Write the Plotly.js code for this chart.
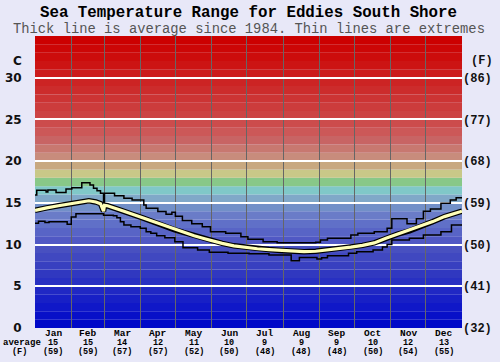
<!DOCTYPE html>
<html>
<head>
<meta charset="utf-8">
<script src="https://cdn.plot.ly/plotly-3.0.1.min.js"></script>
<style>html,body{margin:0;padding:0;background:#E8E8F8;}#chart{width:500px;height:362px;}</style>
</head>
<body>
<div id="chart"></div>
<script>
// ---- data ----
const months = ['Jan','Feb','Mar','Apr','May','Jun','Jul','Aug','Sep','Oct','Nov','Dec'];
const monthEdges = [0,31,59,90,120,151,181,212,243,273,304,334,365];
const avgC = [15,15,14,12,11,10,9,9,9,10,12,13];
const avgF = [59,59,57,57,52,50,48,48,48,50,54,55];

const maxDays = [0,1.5,9.5,11,18,26.5,31.5,40,47,50,53,56,58.6,59.4,68,76,83,93,95,105,112,117,120,126,134,143,150,163,176,182,195,207,240,244,250,270,276,290,301,305,318,326,332,338,347,355,360,365];
const maxVals = [15.95,16.5,16.3,16.55,16.25,16.65,16.8,17.4,17.15,16.75,16.45,16.15,14.7,16.15,15.85,15.55,15.35,14.75,14.35,13.95,13.62,13.86,13.4,12.9,12.5,12.15,11.55,11.35,10.95,10.63,10.35,10.23,10.27,10.55,10.75,11.15,11.35,11.55,11.95,13.1,12.5,13.1,14.0,14.26,14.94,15.34,15.62,15.62];

const minDays = [0,3,8.5,12,27.5,31,35,58.6,59.4,67,70,73,76,82,90,95,99,104,111,119.5,126.5,139,149,165,183,200,219,226,241,245,250,268,275,289,297,301,305,320,332,347,356,365];
const minVals = [12.55,12.8,12.65,12.75,12.45,13.3,13.7,13.5,13.5,13.45,13.2,12.75,12.35,12.15,11.95,11.55,11.35,11.07,10.83,10.35,9.63,9.35,9.07,8.95,8.9,8.75,8.05,8.45,8.27,8.43,8.67,8.95,9.15,9.35,9.7,10.0,10.55,10.75,11.15,11.55,12.35,12.35];

const avgDays = [0,5,10,20,30,40,46,52,56,58.6,59.4,62,68,76,84,92,100,110,119,127,136,145,152,160,170,180,190,200,210,220,230,240,250,260,270,280,290,300,310,320,330,340,350,360,365];
const avgVals = [14.1,14.3,14.4,14.65,14.9,15.15,15.25,15.1,14.9,14.0,14.7,14.65,14.4,14.0,13.6,13.2,12.75,12.3,11.8,11.45,11.05,10.7,10.4,10.15,9.85,9.65,9.5,9.4,9.3,9.2,9.15,9.2,9.35,9.5,9.7,9.9,10.2,10.75,11.25,11.65,12.15,12.75,13.35,13.8,14.0];

const yTicks = [0,5,10,15,20,25,30];
const yTickC = ['0','5','10','15','20','25','30'];
const yTickF = ['(32)','(41)','(50)','(59)','(68)','(77)','(86)'];

// band colours, 1 degree each from 0 up to 35
const bandColors = [
 '#0008C8','#0810C8','#1018C8','#1820C6','#2028C4','#2830C2','#3038C0','#3840C0','#4048C0','#4850C0',
 '#5058C4','#5864C6','#6070C8','#6A7CC8','#7290C8','#80A8C8','#80C8C8','#88C888','#C8C888','#C8A880',
 '#C88C7C','#C87870','#C86464','#CC5858','#CC4C4C','#CC4444','#CC3C3C','#CC3434','#CC2C2C','#CC2424',
 '#CC1C1C','#CC1414','#CC0C0C','#CC0606','#CC0000'
];

// ---- chart ----
const shapes = bandColors.map((c,i)=>({type:'rect',xref:'paper',x0:0,x1:1,yref:'y',y0:i,y1:i+1,
  fillcolor:c,line:{width:0},layer:'below'}));

const mono = 'Liberation Mono, Courier New, monospace';
const sans = 'DejaVu Sans, Verdana, sans-serif';

const centers = months.map((m,i)=>(monthEdges[i]+monthEdges[i+1])/2);
const annotations = [];
const rowY = [-0.0188,-0.0514,-0.0822];
const lab = (sz)=>({family:mono,size:sz,weight:'bold',color:'#000'});
months.forEach((m,i)=>{
  annotations.push({xref:'x',yref:'paper',x:centers[i],y:rowY[0],text:m,showarrow:false,yanchor:'middle',borderpad:0,font:lab(9.5)});
  annotations.push({xref:'x',yref:'paper',x:centers[i],y:rowY[1],text:String(avgC[i]),showarrow:false,yanchor:'middle',borderpad:0,font:lab(8.5)});
  annotations.push({xref:'x',yref:'paper',x:centers[i],y:rowY[2],text:'('+avgF[i]+')',showarrow:false,yanchor:'middle',borderpad:0,font:lab(8.5)});
});
annotations.push({xref:'paper',yref:'paper',x:-0.031,y:rowY[1],text:'average',showarrow:false,xanchor:'center',yanchor:'middle',borderpad:0,font:lab(9)});
annotations.push({xref:'paper',yref:'paper',x:-0.037,y:rowY[2],text:'(F)',showarrow:false,xanchor:'center',yanchor:'middle',borderpad:0,font:lab(8.5)});
annotations.push({xref:'paper',yref:'paper',x:-0.040,y:0.914,text:'C',showarrow:false,xanchor:'center',yanchor:'middle',
  font:{family:sans,size:12,weight:'bold',color:'#111'}});
annotations.push({xref:'paper',yref:'paper',x:1.046,y:0.914,text:'(F)',showarrow:false,xanchor:'center',yanchor:'middle',
  font:{family:mono,size:12,weight:'bold',color:'#111'}});
annotations.push({xref:'paper',yref:'paper',x:0.5,y:1.022,text:'Thick line is average since 1984. Thin lines are extremes',
  showarrow:false,xanchor:'center',yanchor:'middle',borderpad:0,font:{family:mono,size:13.8,color:'#555'}});

const traces = [
  {x:maxDays,y:maxVals,mode:'lines',line:{color:'#000',width:1.5,shape:'hv'},hoverinfo:'skip',showlegend:false},
  {x:minDays,y:minVals,mode:'lines',line:{color:'#000',width:1.5,shape:'hv'},hoverinfo:'skip',showlegend:false},
  {x:avgDays,y:avgVals,mode:'lines',line:{color:'#000',width:5.5},hoverinfo:'skip',showlegend:false},
  {x:avgDays,y:avgVals,mode:'lines',line:{color:'#FFFFB8',width:3.2},hoverinfo:'skip',showlegend:false},
  {x:[0],y:[0],yaxis:'y2',mode:'none',hoverinfo:'skip',showlegend:false}
];

const layout = {
  width:500,height:362,
  margin:{l:35,r:38,t:36,b:34,pad:0},
  paper_bgcolor:'#E8E8F8',plot_bgcolor:'#E8E8F8',
  title:{text:'Sea Temperature Range for Eddies South Shore',x:0.5,xref:'paper',y:0.968,yref:'container',yanchor:'middle',
    font:{family:mono,size:15.8,weight:'bold',color:'#000'}},
  xaxis:{range:[0,365],tickmode:'array',tickvals:monthEdges,showticklabels:false,ticks:'',
    showgrid:true,gridcolor:'#666666',gridwidth:1,zeroline:false,showline:false,fixedrange:true},
  yaxis:{range:[0,35],tickmode:'array',tickvals:yTicks,ticktext:yTickC,ticks:'outside',ticklen:10,tickcolor:'rgba(0,0,0,0)',
    showgrid:true,gridcolor:'#FFFFFF',gridwidth:2,zeroline:false,showline:false,
    tickfont:{family:sans,size:12,weight:'bold',color:'#111'},fixedrange:true},
  yaxis2:{range:[0,35],overlaying:'y',side:'right',tickmode:'array',tickvals:yTicks,ticktext:yTickF,ticks:'',
    showgrid:false,zeroline:false,showline:false,
    tickfont:{family:mono,size:12,weight:'bold',color:'#111'},fixedrange:true},
  shapes:shapes,
  annotations:annotations,
  showlegend:false
};

Plotly.newPlot('chart',traces,layout,{displayModeBar:false,staticPlot:true});
</script>
</body>
</html>
